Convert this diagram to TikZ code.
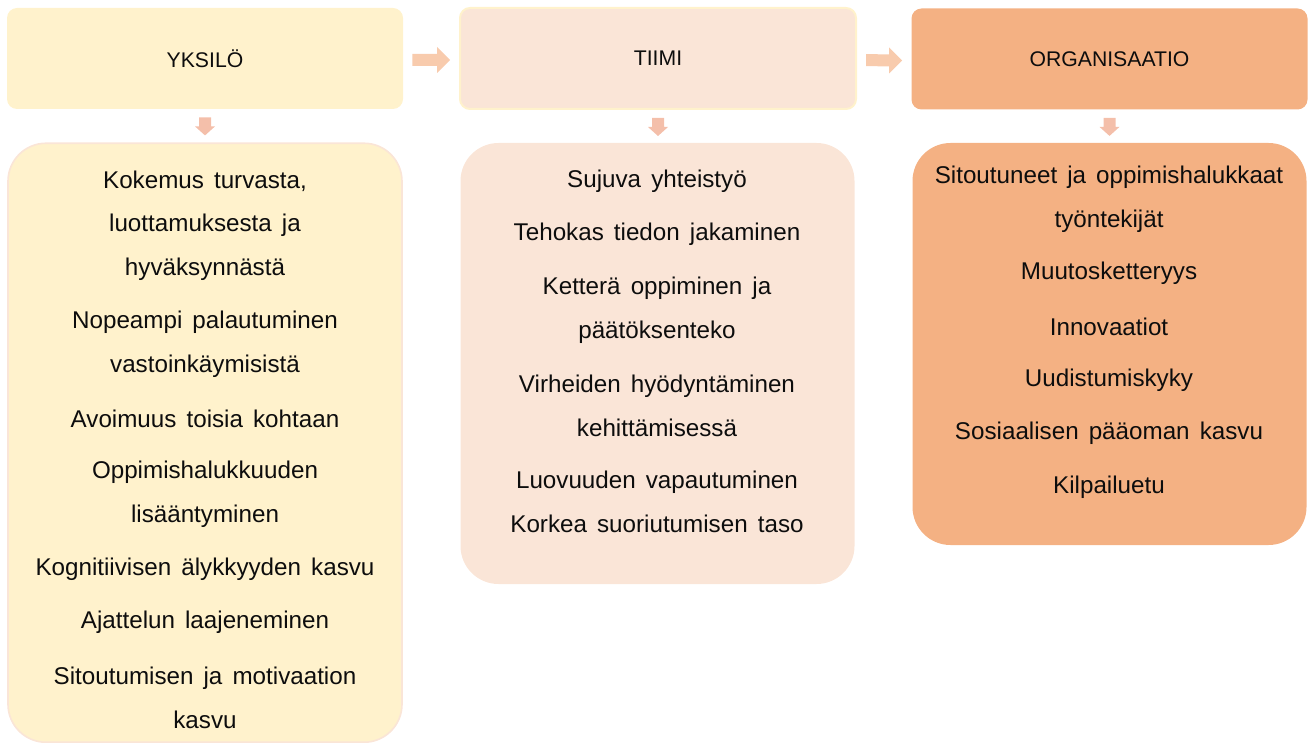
\documentclass[tikz,border=0pt]{standalone}
\usepackage{fontspec}
\setmainfont{Liberation Sans}[WordSpace=1.5]
\usetikzlibrary{calc}
\definecolor{yel}{HTML}{FFF2CC}
\definecolor{peach}{HTML}{FAE5D7}
\definecolor{orng}{HTML}{F4B183}
\definecolor{arr}{HTML}{F8CBAD}
\definecolor{darr}{HTML}{F4BFAA}
\definecolor{txt}{HTML}{0D0D0D}
\tikzset{
  hdr/.style={rounded corners=5pt, minimum width=198pt, minimum height=50.5pt,
    inner sep=0pt, font=\fontsize{10.6pt}{12pt}\selectfont, text=txt},
  body/.style={rounded corners=19pt, minimum width=197pt, inner sep=0pt},
  item/.style={align=center, text=txt, inner sep=0pt,
    font=\fontsize{12.1pt}{21.75pt}\selectfont},
  blockarrow/.style={fill=arr, draw=none},
  downarrow/.style={fill=darr, draw=none}
}
\begin{document}
\begin{tikzpicture}[x=0.5pt, y=-0.5pt]
\useasboundingbox (0,0) rectangle (1310,743);

% header boxes
\node[hdr, fill=yel] (h1) at (205,58.5) {YKSILÖ};
\node[hdr, fill=peach, draw=yel, line width=1pt] (h2) at (658,58.5) {TIIMI};
\node[hdr, fill=orng] (h3) at (1109.5,59) {ORGANISAATIO};

% result boxes
\node[body, fill=yel, draw=peach, line width=0.8pt, minimum height=299.5pt] (b1) at (205,442.75) {};
\node[body, fill=peach, minimum height=220.5pt] (b2) at (657.5,363.5) {};
\node[body, fill=orng, minimum height=201pt] (b3) at (1109.5,344) {};

% horizontal block arrows between headers
\foreach \a/\b [count=\i] in {h1/h2, h2/h3} {
  \coordinate (s\i) at ($(\a.east)+(9,1.5)$);
  \coordinate (e\i) at ($(\b.west)+(-9,1.5)$);
  \fill[blockarrow] ($(s\i)+(0,-6)$) -- ($(e\i)+(-13,-6)$) -- ($(e\i)+(-13,-13)$)
    -- (e\i) -- ($(e\i)+(-13,13)$) -- ($(e\i)+(-13,6)$) -- ($(s\i)+(0,6)$) -- cycle;
}

% downward block arrows from headers to result boxes
\foreach \a/\b [count=\i] in {h1/b1, h2/b2, h3/b3} {
  \coordinate (t\i) at ($(\a.south)+(0,8)$);
  \coordinate (p\i) at ($(\a.south)+(0,26)$);
  \fill[downarrow] ($(t\i)+(-6,0)$) -- ($(t\i)+(6,0)$) -- ($(p\i)+(6,-9)$) -- ($(p\i)+(10,-9)$)
    -- (p\i) -- ($(p\i)+(-10,-9)$) -- ($(p\i)+(-6,-9)$) -- cycle;
}

% items: individual
\node[item] (i1) at (205,225.5) {Kokemus turvasta,\\luottamuksesta ja\\hyväksynnästä};
\node[item] (i2) at (205,344) {Nopeampi palautuminen\\vastoinkäymisistä};
\node[item] (i3) at (205,418.5) {Avoimuus toisia kohtaan};
\node[item] (i4) at (205,494) {Oppimishalukkuuden\\lisääntyminen};
\node[item] (i5) at (205,569.5) {Kognitiivisen älykkyyden kasvu};
\node[item] (i6) at (205,622.5) {Ajattelun laajeneminen};
\node[item] (i7) at (205,698) {Sitoutumisen ja motivaation\\kasvu};

% items: team
\node[item] (j1) at (657,181.5) {Sujuva yhteistyö};
\node[item] (j2) at (657,234.5) {Tehokas tiedon jakaminen};
\node[item] (j3) at (657,310) {Ketterä oppiminen ja\\päätöksenteko};
\node[item] (j4) at (657,406) {Virheiden hyödyntäminen\\kehittämisessä};
\node[item] (j5) at (657,502) {Luovuuden vapautuminen\\Korkea suoriutumisen taso};

% items: organisation
\node[item] (k1) at (1109,199) {Sitoutuneet ja oppimishalukkaat\\työntekijät};
\node[item] (k2) at (1109,273.5) {Muutosketteryys};
\node[item] (k3) at (1109,327) {Innovaatiot};
\node[item] (k4) at (1109,380.5) {Uudistumiskyky};
\node[item] (k5) at (1109,433.5) {Sosiaalisen pääoman kasvu};
\node[item] (k6) at (1109,487.5) {Kilpailuetu};
\end{tikzpicture}
\end{document}
